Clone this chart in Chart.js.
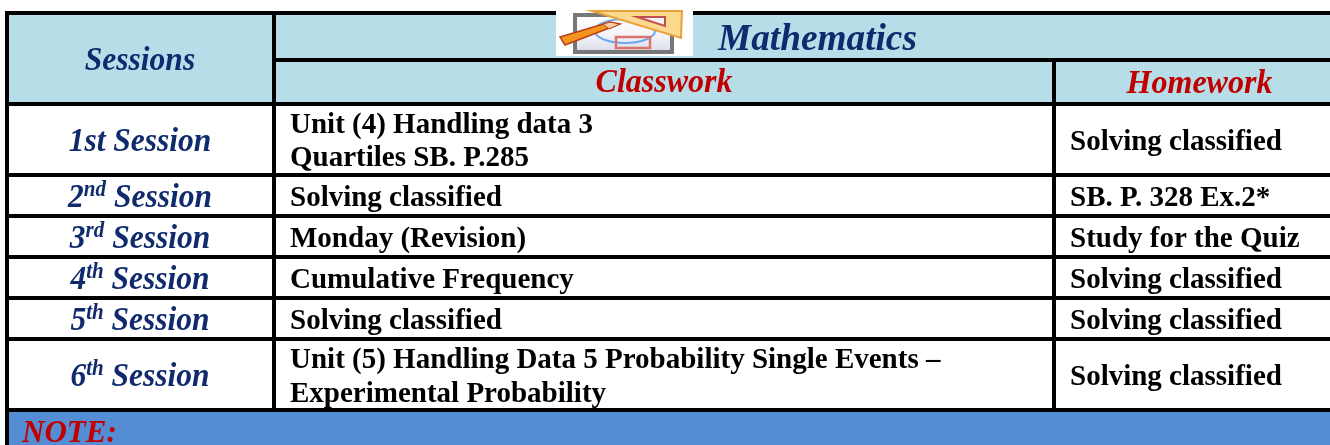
<!DOCTYPE html>
<html><head><meta charset="utf-8">
<style>html,body{margin:0;padding:0;background:#fff;overflow:hidden}#w{position:relative;width:1330px;height:445px}</style>
<script src="https://cdn.jsdelivr.net/npm/chart.js@4"></script></head>
<body><div id="w"><canvas id="c" width="1330" height="445"></canvas></div>
<script>
// ---- table content ----
const subjectTitle = "Mathematics";
const rowHeader = "Sessions";
const columnHeaders = ["Classwork", "Homework"];
const sessionNumbers = ["1", "2", "3", "4", "5", "6"];
const sessionSuffixes = ["st", "nd", "rd", "th", "th", "th"];
const sessionWord = "Session";
const classwork = [
  ["Unit (4) Handling data 3", "Quartiles SB. P.285"],
  ["Solving classified"],
  ["Monday (Revision)"],
  ["Cumulative Frequency"],
  ["Solving classified"],
  ["Unit (5) Handling Data 5 Probability Single Events \u2013", "Experimental Probability"]
];
const homework = ["Solving classified", "SB. P. 328 Ex.2*", "Study for the Quiz", "Solving classified", "Solving classified", "Solving classified"];
const noteLabel = "NOTE:";

// ---- layout (pixel grid of the table, used as the axis domain) ----
const W = 1330, H = 445;
const sessionBase = [151, 207, 248, 289, 330, 386];
const classBase = [[133, 166], [206], [247], [288], [329], [368, 402]];
const homeBase = [150, 206, 247, 288, 329, 385];

const serif = '"Liberation Serif","Times New Roman",serif';
const NAVY = "#0f2b6e", RED = "#c00000", HEAD = "#b6dde8", NOTE = "#548dd4";

function fillBand(x0, x1, y0, y1, color) {
  return { data: [{x:x0,y:y0},{x:x1,y:y0}], fill:{value:y1}, backgroundColor:color,
           borderWidth:0, pointRadius:0, tension:0 };
}
function rule(x0, y0, x1, y1) {
  return { data: [{x:x0,y:y0},{x:x1,y:y1}], borderColor:"#000", borderWidth:4,
           borderCapStyle:"butt", pointRadius:0, fill:false, tension:0 };
}
// Chart.js paints the first dataset last, so the rules come before the fills
const datasets = [
  rule(5, 13, W, 13),
  rule(274, 60, W, 60),
  rule(7, 104, W, 104),
  rule(7, 175, W, 175), rule(7, 216, W, 216), rule(7, 257, W, 257),
  rule(7, 298, W, 298), rule(7, 339, W, 339), rule(7, 410, W, 410),
  rule(7, 11, 7, H), rule(274, 13, 274, 410), rule(1054, 60, 1054, 410),
  fillBand(7, W, 13, 104, HEAD),
  fillBand(7, W, 410, H, NOTE)
];

function put(ctx, sx, sy, str, x, y, font, color, align, stretch) {
  ctx.save();
  ctx.font = font; ctx.fillStyle = color; ctx.textAlign = align || "left"; ctx.textBaseline = "alphabetic";
  ctx.translate(sx.getPixelForValue(x), sy.getPixelForValue(y));
  ctx.scale(1, stretch || 1);
  ctx.fillText(str, 0, 0);
  ctx.restore();
}

const tablePlugin = {
  id: "tableText",
  afterDatasetsDraw(chart) {
    const ctx = chart.ctx, sx = chart.scales.x, sy = chart.scales.y;
    ctx.save();
    drawIcon(ctx, sx, sy);
    const bi = s => `italic bold ${s}px ${serif}`, b = s => `bold ${s}px ${serif}`;
    const T = 1.08;
    put(ctx, sx, sy, rowHeader, 140, 70, bi(31.5), NAVY, "center", T);
    put(ctx, sx, sy, subjectTitle, 718, 50, bi(37.3), NAVY);
    put(ctx, sx, sy, columnHeaders[0], 664, 92, bi(32), RED, "center", 1.05);
    put(ctx, sx, sy, columnHeaders[1], 1199.5, 93, bi(32), RED, "center", 1.05);
    sessionNumbers.forEach((n, i) => {
      const y = sessionBase[i];
      if (i === 0) { put(ctx, sx, sy, n + sessionSuffixes[i] + " " + sessionWord, 140, y, bi(31.5), NAVY, "center", T); return; }
      ctx.font = bi(31.5); const a = ctx.measureText(n).width, c = ctx.measureText(" " + sessionWord).width;
      ctx.font = bi(21); const s = ctx.measureText(sessionSuffixes[i]).width;
      let x = 140 - (a + s + c) / 2;
      put(ctx, sx, sy, n, x, y, bi(31.5), NAVY, "left", T); x += a;
      put(ctx, sx, sy, sessionSuffixes[i], x, y - 11, bi(21), NAVY, "left", T); x += s;
      put(ctx, sx, sy, " " + sessionWord, x, y, bi(31.5), NAVY, "left", T);
    });
    classwork.forEach((lines, i) => lines.forEach((t, j) => put(ctx, sx, sy, t, 290, classBase[i][j], b(29), "#000")));
    homework.forEach((t, i) => put(ctx, sx, sy, t, 1070, homeBase[i], b(29), "#000"));
    put(ctx, sx, sy, noteLabel, 22, 442, bi(31), RED);
    ctx.restore();
  }
};

function drawIcon(ctx, sx, sy) {
  const X = v => sx.getPixelForValue(v), Y = v => sy.getPixelForValue(v);
  const poly = (pts, fill, stroke, lw) => {
    ctx.beginPath(); pts.forEach((p, i) => i ? ctx.lineTo(X(p[0]), Y(p[1])) : ctx.moveTo(X(p[0]), Y(p[1])));
    ctx.closePath(); if (fill) { ctx.fillStyle = fill; ctx.fill(); }
    if (stroke) { ctx.strokeStyle = stroke; ctx.lineWidth = lw; ctx.stroke(); }
  };
  poly([[556,0],[693,0],[693,56],[556,56]], "#fff");
  const g = ctx.createLinearGradient(0, Y(15), 0, Y(52));
  g.addColorStop(0, "#ffffff"); g.addColorStop(0.55, "#f4f4f8"); g.addColorStop(1, "#d9dbe8");
  poly([[575,15],[672,15],[672,52],[575,52]], g, "#777", 4);
  ctx.beginPath(); ctx.ellipse(X(625), Y(31), 30, 12, 0, 0, Math.PI * 2);
  ctx.strokeStyle = "#6fa8ef"; ctx.lineWidth = 2; ctx.stroke();
  poly([[616,37],[650,37],[650,48],[616,48]], null, "#d9736b", 2.5);
  poly([[592,11],[682,11],[681,38]], "#fcd98e", "#e9a13c", 2);
  poly([[637,17],[665,17],[665,26]], "#f3f3f6", "#c0504d", 2);
  poly([[560,37],[610,22],[620,24],[565,45]], "#f7941d", "#b5401a", 1.5);
  poly([[603,24],[610,22],[620,24],[609,29]], "#f6cfa0", "#b5401a", 1);
}

new Chart(document.getElementById("c"), {
  type: "line",
  data: { datasets },
  plugins: [tablePlugin],
  options: {
    responsive: false, animation: false, parsing: false,
    layout: { padding: 0 },
    plugins: { legend: { display: false }, tooltip: { enabled: false }, title: { display: false } },
    scales: {
      x: { type: "linear", min: 0, max: W, display: false },
      y: { type: "linear", min: 0, max: H, reverse: true, display: false }
    }
  }
});
</script></body></html>
